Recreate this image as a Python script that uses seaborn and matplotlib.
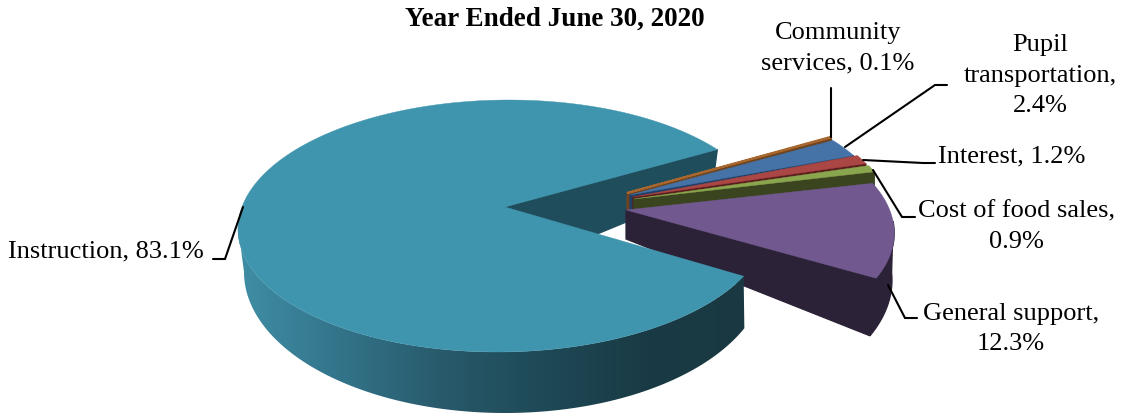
import numpy as np
import matplotlib
matplotlib.use("Agg")
import matplotlib.pyplot as plt
from matplotlib.patches import Polygon
from matplotlib.colors import LinearSegmentedColormap
import seaborn as sns

categories = ["Instruction", "Community services", "Pupil transportation", "Interest",
              "Cost of food sales", "General support"]
shares = [83.1, 0.1, 2.4, 1.2, 0.9, 12.3]
label_texts = ["Instruction, 83.1%", "Community\nservices, 0.1%", "Pupil\ntransportation,\n2.4%",
               "Interest, 1.2%", "Cost of food sales,\n0.9%", "General support,\n12.3%"]
title = "Year Ended June 30, 2020"

top_colors = ["#4095AE", "#A8672E", "#4572A7", "#AA4643", "#89A54E", "#71588F"]
side_colors = ["#1F4D5B", "#6E4420", "#1F3F66", "#5A1E1E", "#3A4520", "#2C2238"]

# Exploded position of each slice: (apex x, top apex y, top centre drop, top a, top b,
#                                   bottom apex y, bottom centre drop, bottom a, bottom b,
#                                   top centre x shift, top perspective skew)
geometry = {
    "Instruction":          (505, 207, 19, 265, 126, 272, 0, 261, 141, -2, 6),
    "Community services":   (627, 193, 16, 256, 119, 210, 16, 256, 119, 0, 0),
    "Pupil transportation": (630, 195, 17, 254, 119, 212, 17, 254, 119, 0, 0),
    "Interest":             (633, 197, 15, 255, 119, 214, 15, 255, 119, 0, 0),
    "Cost of food sales":   (634, 199, 15, 257, 119, 216, 12, 257, 119, 0, 0),
    "General support":      (626, 210, 18, 268, 126, 239, 41, 266, 140, 0, -11),
}
START = -23.5

sns.set_theme(style="white")
plt.rcParams["font.family"] = ["Liberation Serif", "DejaVu Serif"]

fig = plt.figure(figsize=(11.25, 4.13), dpi=100)
ax = fig.add_axes([0, 0, 1, 1])
ax.set_xlim(0, 1125)
ax.set_ylim(413, 0)
ax.axis("off")

# Angular spans, clockwise from START
spans = {}
cur = START
for c, s in zip(categories, shares):
    nxt = cur - s / 100 * 360
    spans[c] = (nxt, cur)
    cur = nxt


def arc(g, t1, t2, bottom=False, n=200):
    x0, ya, dy, a, b, yb, dyb, ab, bb, sx, k = g
    t = np.radians(np.linspace(t1, t2, n))
    if bottom:
        return np.c_[x0 + ab * np.cos(t), yb + dyb - bb * np.sin(t)]
    return np.c_[x0 + sx + a * np.cos(t) + k * np.sin(t), ya + dy - b * np.sin(t)]


def cut_face(g, t, color, z):
    x0, ya, yb = g[0], g[1], g[5]
    o_top = arc(g, t, t, n=1)[0]
    o_bot = arc(g, t, t, bottom=True, n=1)[0]
    ax.add_patch(Polygon([(x0, ya), o_top, o_bot, (x0, yb)], closed=True, fc=color, ec=color,
                         lw=0.9, zorder=z))


def top_face(g, t1, t2, color, z, lw=0.3):
    pts = np.vstack([[(g[0], g[1])], arc(g, t1, t2)])
    ax.add_patch(Polygon(pts, closed=True, fc=color, ec=color, lw=lw, zorder=z))


g = geometry["Instruction"]
t1, t2 = spans["Instruction"]
cut_face(g, t1 + 360, side_colors[0], 1)           # far cut edge, behind the small slices

# back slices, back to front
order = ["Community services", "Pupil transportation", "Interest", "Cost of food sales", "General support"]
for i, c in enumerate(order):
    k = categories.index(c)
    if c == "General support":
        s1, s2 = START, START + shares[k] / 100 * 360
    else:
        s1, s2 = spans[c][0] % 360, spans[c][1] % 360
    gg = geometry[c]
    z = 2 + i
    cut_face(gg, s1, side_colors[k], z)
    if c == "General support":
        pts = np.vstack([arc(gg, s1, 3), arc(gg, 3, s1, bottom=True)])
        ax.add_patch(Polygon(pts, closed=True, fc=side_colors[k], ec=side_colors[k], lw=0.9, zorder=z))
    top_face(gg, s1, s2, top_colors[k], z + 0.5, lw=1.4 if shares[k] < 0.5 else 0.3)

# main slice wall with horizontal shading, then its top
wall = np.vstack([arc(g, 180, 360 + START, n=300), arc(g, 360 + START, 180, bottom=True, n=300)])
poly = Polygon(wall, closed=True, fc="none", ec="none", zorder=11)
ax.add_patch(poly)
cmap = LinearSegmentedColormap.from_list(
    "wall", sns.blend_palette(["#3F8EA5", "#33748A", "#285A6B", "#1E4956", "#1A3B45", "#193842"], 6))
im = ax.imshow(np.linspace(0, 1, 256)[None, :], extent=(237, 750, 413, 100), aspect="auto",
               cmap=cmap, zorder=11, interpolation="bilinear")
im.set_clip_path(poly)
ax.set_xlim(0, 1125)
ax.set_ylim(413, 0)
top_face(g, t1, t2, top_colors[0], 12)

# leader lines
leaders = [
    [(243, 207), (225, 259), (213, 259)],
    [(831, 137), (831, 88)],
    [(845, 147), (935, 85), (947, 85)],
    [(863, 160), (923, 163), (935, 163)],
    [(873, 170), (902, 217), (915, 217)],
    [(888, 285), (905, 318), (917, 318)],
]
for pts in leaders:
    xs, ys = zip(*pts)
    ax.plot(xs, ys, color="black", lw=1.5, zorder=20, solid_joinstyle="miter")

FS = 19
label_pos = [(106, 251), (838, 48), (1040, 76), (1012, 156), (1016, 227), (1011, 329)]
for txt, (x, y) in zip(label_texts, label_pos):
    ax.text(x, y, txt, ha="center", va="center", fontsize=FS, color="black", linespacing=1.5, zorder=30)
ax.text(555, 19, title, ha="center", va="center", fontsize=19.5, fontweight="bold", color="black", zorder=30)

fig.savefig("out.png", dpi=100, facecolor="white")
